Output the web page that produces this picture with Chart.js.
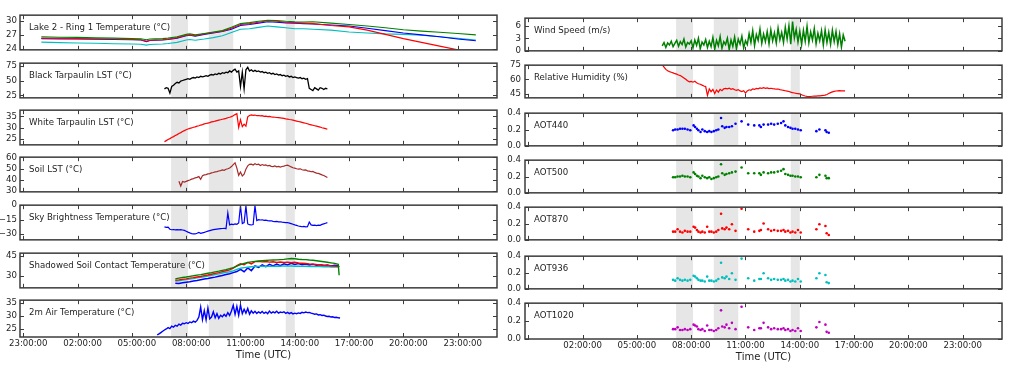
<!DOCTYPE html>
<html><head><meta charset="utf-8">
<script src="https://cdn.jsdelivr.net/npm/chart.js@4.4.1/dist/chart.umd.min.js"></script>
<style>
html,body{margin:0;padding:0;background:#fff;}
body{width:1024px;height:371px;overflow:hidden;position:relative;}
canvas{position:absolute;}
</style></head>
<body>
<script>
// ---------------- DATA ----------------
const X_TICKS = [-1, 2, 5, 8, 11, 14, 17, 20, 23];           // hours (23:00 previous day = -1)
const BANDS = [["07:10","08:06"], ["09:15","10:36"], ["13:30","14:00"]];

const LAKE_T = ["00:00","01:00","02:00","03:00","04:00","05:00","05:30","05:48","06:00","06:18","06:42","07:00","07:30","08:00","08:12","08:30","09:00","09:30","10:00","10:30","11:00","11:30","12:00","12:30","13:00","13:30","14:00","14:30","15:00","16:00","17:00","18:00","19:00","20:00","21:00","22:00","23:00","24:00"];
const LAKE_GREEN = [26.6,26.5,26.45,26.35,26.3,26.2,26.15,25.95,26.1,26.15,26.2,26.3,26.6,27.1,27.2,27.0,27.3,27.6,27.9,28.6,29.4,29.6,29.9,30.1,30.05,29.9,29.8,29.75,29.8,29.5,29.2,28.9,28.5,28.1,27.8,27.55,27.3,27.0];
const LAKE_RED   = [26.3,26.25,26.2,26.15,26.1,26.0,25.95,25.65,25.85,25.9,25.95,26.05,26.4,26.9,27.0,26.8,27.2,27.5,27.8,28.4,29.2,29.4,29.7,30.0,29.9,29.7,29.6,29.5,29.4,29.0,28.7,28.0,27.1,26.2,25.4,24.6,23.8,23.0];
const LAKE_BLUE  = [26.2,26.15,26.1,26.05,26.0,25.95,25.9,25.55,25.8,25.85,25.9,26.0,26.3,26.8,26.9,26.7,27.1,27.4,27.7,28.2,29.0,29.2,29.5,29.8,29.7,29.55,29.5,29.4,29.3,29.1,28.9,28.4,27.9,27.4,27.0,26.6,26.1,25.75];
const LAKE_CYAN  = [25.45,25.35,25.25,25.2,25.1,25.05,25.0,24.8,24.95,25.0,25.05,25.15,25.4,25.9,26.0,25.85,26.1,26.4,26.8,27.5,28.2,28.3,28.6,28.9,28.7,28.5,28.3,28.3,28.2,28.0,27.6,27.4,27.2,27.1,26.9,26.6,26.25,25.9];

const GRID_A = [
"06:24","06:30","06:36","06:42","06:48","06:54",
"07:00","07:06","07:12","07:18","07:24","07:30","07:36","07:42","07:48","07:54",
"08:00","08:06","08:12","08:18","08:24","08:30","08:36","08:42","08:48","08:54",
"09:00","09:06","09:12","09:18","09:24","09:30","09:36","09:42","09:48","09:54",
"10:00","10:06","10:12","10:18","10:24","10:30","10:36","10:42","10:48","10:54",
"11:00","11:06","11:12","11:18","11:24","11:30","11:36","11:42","11:48","11:54",
"12:00","12:06","12:12","12:18","12:24","12:30","12:36","12:42","12:48","12:54",
"13:00","13:06","13:12","13:18","13:24","13:30","13:36","13:42","13:48","13:54",
"14:00","14:06","14:12","14:18","14:24","14:30","14:36","14:42","14:48","14:54",
"15:00","15:06","15:12","15:18","15:24","15:30","15:36","15:42","15:48","15:54",
"16:00","16:06","16:12","16:18","16:24","16:30"];

const BLACK_TARP = [
null,null,null,null,36,38,
37,29,40,42,45,47,46,49,50,51,
52,53,52,54,55,54,56,55,57,56,
57,58,57,59,60,59,61,60,62,61,
63,62,64,63,66,64,67,69,64,66,
40,64,36,68,72,66,68,65,67,65,
66,64,65,63,64,62,63,61,62,60,
61,59,60,58,59,57,58,56,57,55,
56,55,54,55,53,54,52,53,37,35,
33,38,36,34,38,37,35,37,36,null,
null,null,null,null,null,null];

const WHITE_TARP = [
null,null,null,null,23.6,24.1,
24.6,25.0,25.5,25.9,26.4,26.8,27.3,27.7,28.2,28.6,
29.0,29.3,29.6,29.8,30.1,30.3,30.6,30.8,31.1,31.3,
31.6,31.8,32.0,32.2,32.5,32.6,32.9,33.1,33.3,33.5,
33.7,33.9,34.1,34.4,34.6,34.9,35.3,35.8,36.2,30.0,
33.5,30.4,31.5,30.6,34.8,35.4,35.7,35.5,35.6,35.3,
35.4,35.2,35.3,35.0,35.1,34.9,35.0,34.8,34.7,34.6,
34.5,34.4,34.3,34.2,34.1,33.9,33.8,33.6,33.5,33.3,
33.1,32.9,32.7,32.5,32.3,32.1,31.9,31.7,31.4,31.2,
31.0,30.8,30.6,30.4,30.2,29.9,29.7,29.5,29.2,null,
null,null,null,null,null,null];

const SOIL_LST = [
null,null,null,null,null,null,
null,null,null,null,null,null,38.8,34.5,38.5,38.0,
38.6,39.3,39.8,40.6,41.1,41.8,42.2,42.9,40.5,43.6,
44.4,44.7,45.3,45.6,46.2,46.5,47.1,47.3,47.9,48.2,
48.8,48.5,49.4,49.9,50.6,51.8,53.5,55.2,50.5,44.0,
47.0,43.5,45.0,49.5,52.5,53.8,54.0,53.2,54.3,53.5,
53.9,52.8,53.6,52.9,53.3,52.4,52.9,52.0,51.8,52.4,
51.6,52.0,51.4,51.9,52.2,52.8,53.1,52.4,51.5,50.8,
50.4,49.9,49.5,49.8,49.0,48.6,48.9,48.0,47.7,47.2,
47.5,46.6,46.0,45.7,45.1,44.4,43.9,43.0,42.0,null,
null,null,null,null,null,null];

const SKY_BT = [
null,null,null,null,-22.5,-23.0,
-22.8,-25.0,-25.5,-25.3,-25.6,-25.4,-25.7,-25.5,-25.8,-26.2,
-27.0,-28.0,-28.8,-29.5,-29.8,-29.9,-29.2,-28.4,-29.3,-28.7,
-28.2,-27.6,-27.0,-26.4,-25.9,-25.4,-25.1,-24.8,-24.6,-24.4,
-24.2,-24.0,-24.4,-8.0,-20.5,-19.8,-20.2,-19.5,-19.9,-18.5,
-0.5,-19.0,-18.0,-0.8,-19.5,-20.3,-20.6,-20.2,-0.5,-16.0,
-15.0,-15.4,-15.2,-15.8,-15.6,-16.1,-16.3,-16.2,-16.8,-17.0,
-16.8,-17.3,-17.2,-17.6,-17.9,-18.2,-18.0,-18.6,-19.2,-19.8,
-20.5,-21.0,-21.6,-22.0,-22.4,-22.1,-22.6,-22.3,-17.5,-20.5,
-21.0,-20.7,-21.2,-20.8,-20.9,-20.0,-19.4,-18.8,-18.2,null,
null,null,null,null,null,null];

const AIR_2M = [
22.6,23.0,23.5,24.0,24.5,24.9,
25.4,25.0,26.0,25.6,26.3,26.0,26.8,26.4,27.1,26.9,
27.3,27.0,27.6,27.3,27.9,27.5,28.2,29.5,33.3,28.5,
32.0,28.4,33.0,28.8,29.5,31.5,29.2,30.8,29.0,30.2,
29.6,30.5,29.8,31.2,30.1,31.8,34.0,30.5,33.6,30.2,
34.1,30.8,32.5,31.0,32.8,30.6,31.9,31.0,31.7,30.9,
31.5,31.0,31.6,30.9,31.4,30.8,31.8,31.0,31.5,31.1,
31.7,31.0,31.4,31.2,31.5,30.9,31.3,30.8,31.2,30.7,
31.0,30.8,31.1,30.9,31.3,31.1,31.4,31.2,31.3,31.0,
30.8,30.6,30.7,30.3,30.4,30.1,30.2,29.9,29.7,29.8,
29.5,29.6,29.3,29.4,29.2,29.1];

const WIND = [
1.2,2.0,0.8,1.9,1.4,2.3,
1.0,1.8,2.5,1.1,2.2,1.5,2.8,0.9,2.0,1.6,
2.4,0.7,2.6,1.3,3.0,0.5,2.1,1.4,2.7,0.8,
2.3,1.0,3.2,0.4,2.5,1.2,3.4,0.6,2.2,1.5,
3.0,0.3,2.6,1.1,3.3,0.5,2.8,1.6,3.5,0.7,
2.4,1.5,4.1,2.0,4.8,1.3,3.9,2.5,5.2,1.8,
4.0,2.2,4.6,1.7,5.0,2.4,4.3,1.9,5.4,2.6,
4.4,2.0,5.6,2.8,6.0,1.6,7.0,3.0,5.1,2.1,
4.7,1.5,4.9,2.3,5.8,1.9,4.5,2.6,5.3,1.7,
4.2,2.4,4.8,1.4,5.0,2.0,4.4,1.6,4.9,2.2,
4.6,1.5,4.1,0.9,3.8,2.3];

const RH = [
75.5,73.0,70.5,69.0,68.2,67.5,
66.8,66.0,65.5,64.6,64.0,62.8,61.5,60.2,58.5,57.4,
57.8,57.0,58.0,56.5,55.4,54.8,53.9,53.0,52.4,43.0,
50.0,47.0,49.5,45.0,48.8,46.5,49.5,48.0,50.0,50.5,
50.0,50.8,49.6,50.2,49.0,48.4,49.2,47.8,47.2,48.0,
45.5,47.8,49.0,48.5,50.0,49.4,50.5,50.0,51.0,50.6,
51.2,50.5,51.0,50.2,50.6,50.2,50.0,49.6,49.8,49.2,
48.8,48.4,48.0,47.6,47.2,46.5,46.0,45.6,45.2,44.9,
44.6,43.8,43.0,42.4,42.0,41.7,41.9,42.2,42.4,42.3,
42.5,42.6,42.9,43.0,43.3,44.0,45.0,46.0,46.8,47.4,
47.7,47.9,48.1,47.9,48.0,47.8];

const GRID_B = ["07:24","07:36","07:48","08:00","08:12","08:24","08:36","08:48","09:00","09:12",
"09:24","09:36","09:48","10:00","10:12","10:24","10:36","10:48","11:00","11:12",
"11:24","11:36","11:48","12:00","12:12","12:24","12:36","12:48","13:00","13:12",
"13:24","13:36","13:48","14:00","14:12","14:24","14:36","14:48","15:00","15:12",
"15:24","15:36","15:48","16:00","16:12","16:24","16:27"];
const SH_GREEN = [27.8,28.3,28.8,29.2,29.7,30.1,30.6,31.0,31.5,32.0, 32.5,33.1,33.6,34.2,34.8,35.5,36.3,37.4,38.6,39.5, 40.1,40.6,41.0,41.3,41.5,41.7,41.9,42.0,42.1,42.3, 42.5,42.9,43.2,43.0,42.6,42.4,42.3,42.0,41.8,41.5, 41.1,40.7,40.3,39.9,39.5,38.8,30.5];
const SH_RED   = [26.7,27.0,27.4,27.8,28.3,28.7,29.2,29.6,30.2,30.7, 31.3,31.9,32.5,33.2,33.9,34.6,35.8,37.8,39.2,38.4, 40.2,39.1,40.8,41.0,40.6,40.9,40.4,40.7,40.2,40.5, 40.1,40.4,40.0,40.3,39.8,39.6,39.4,39.1,38.9,38.6, 38.4,38.1,37.9,37.6,37.4,37.2,36.8];
const SH_CYAN  = [26.1,26.4,26.8,27.2,27.6,28.0,28.5,28.9,29.4,29.9, 30.4,31.0,31.6,32.2,32.7,33.2,33.8,34.9,35.8,36.3, 36.6,36.9,37.1,37.2,37.3,37.1,37.4,37.2,37.5,37.3, 37.6,37.4,37.5,37.3,37.4,37.2,37.3,37.1,37.2,37.0, 37.1,36.9,37.0,36.8,36.9,36.7,36.5];
const SH_BLUE  = [24.4,24.2,24.8,25.3,25.6,26.2,26.5,27.1,27.6,28.0, 28.6,29.1,29.8,30.4,31.0,31.6,32.5,33.3,35.0,33.2, 36.0,34.0,37.5,36.5,38.4,37.0,38.8,37.5,39.0,37.8, 39.2,38.3,39.5,38.6,39.4,38.5,39.0,38.3,38.8,38.0, 38.5,37.9,38.3,37.6,38.0,37.5,36.9];

const AOT_T = ["07:00","07:07","07:15","07:23","07:31","07:39","07:48","07:57",
"08:08","08:13","08:19","08:24","08:31","08:37","08:45","08:53",
"09:00","09:07","09:15","09:23","09:30","09:39","09:43","09:51",
"09:57","10:06","10:15","10:27","10:47","11:09","11:29","11:46",
"11:51","12:00","12:15","12:25","12:35","12:47","12:58","13:06",
"13:12","13:21","13:29","13:36","13:45","13:54","14:03","14:55",
"15:05","15:25","15:29","15:36"];
const AOT440  = [0.19,0.20,0.20,0.21,0.21,0.21,0.20,0.19, 0.25,0.23,0.21,0.19,0.17,0.20,0.18,0.17, 0.18,0.17,0.18,0.19,0.20,0.34,0.24,0.22, 0.23,0.23,0.24,0.27,0.30,0.26,0.25,0.25, 0.23,0.26,0.26,0.27,0.26,0.27,0.28,0.30, 0.25,0.23,0.22,0.21,0.21,0.20,0.19,0.18, 0.20,0.19,0.17,0.16];
const AOT500  = [0.19,0.19,0.20,0.20,0.21,0.20,0.20,0.19, 0.25,0.23,0.21,0.20,0.18,0.21,0.19,0.18, 0.19,0.17,0.18,0.19,0.20,0.35,0.24,0.22, 0.23,0.24,0.25,0.26,0.31,0.24,0.24,0.24, 0.22,0.25,0.24,0.25,0.25,0.26,0.27,0.29, 0.23,0.22,0.21,0.21,0.20,0.20,0.19,0.19, 0.22,0.21,0.18,0.18];
const AOT870  = [0.10,0.10,0.13,0.10,0.09,0.11,0.10,0.10, 0.16,0.15,0.12,0.10,0.09,0.10,0.09,0.16, 0.10,0.10,0.09,0.10,0.12,0.32,0.14,0.13, 0.15,0.13,0.19,0.11,0.38,0.13,0.10,0.11, 0.12,0.20,0.13,0.11,0.12,0.11,0.11,0.12, 0.10,0.11,0.09,0.10,0.09,0.12,0.09,0.13, 0.19,0.17,0.08,0.06];
const AOT936  = [0.11,0.10,0.13,0.11,0.10,0.11,0.10,0.11, 0.16,0.15,0.13,0.11,0.10,0.10,0.09,0.15, 0.10,0.10,0.09,0.10,0.12,0.32,0.14,0.13, 0.15,0.12,0.19,0.11,0.37,0.13,0.10,0.12, 0.12,0.19,0.13,0.11,0.12,0.11,0.11,0.12, 0.10,0.11,0.09,0.10,0.09,0.12,0.09,0.13, 0.19,0.17,0.08,0.07];
const AOT1020 = [0.11,0.11,0.13,0.10,0.10,0.11,0.10,0.11, 0.16,0.15,0.14,0.11,0.10,0.11,0.09,0.15, 0.10,0.10,0.09,0.10,0.12,0.32,0.14,0.13, 0.16,0.12,0.18,0.11,0.36,0.13,0.10,0.12, 0.12,0.18,0.13,0.11,0.12,0.11,0.11,0.12, 0.10,0.11,0.09,0.10,0.09,0.12,0.09,0.13, 0.19,0.16,0.08,0.07];

const LAKE_TICKS = [24, 27, 30], BLACK_TICKS = [25, 50, 75], WHITE_TICKS = [25, 30, 35];
const SOIL_TICKS = [30, 40, 50, 60], SKY_TICKS = [-30, -15, 0], SHADOW_TICKS = [30, 45];
const AIR_TICKS = [25, 30, 35], WIND_TICKS = [0, 3, 6], RH_TICKS = [45, 60, 75], AOT_TICKS = [0, 0.2, 0.4];

// ---------------- RENDERING ----------------
const FONT = '"DejaVu Sans", sans-serif';
const TXT = '#1e1e1e';
const FRAME = '#3c3c3c';
const XMIN = -1.18, XMAX = 25.17;
const hr = s => { const p = s.split(':').map(Number); return p[0] + p[1] / 60; };
const C = {g:'#008000', r:'#ff0000', b:'#0000ff', c:'#00bfbf', m:'#bf00bf', k:'#000000', br:'#a52a2a'};

const COLS = [{x0:20, L:20, tops:[13,61,108,155,203,251,298], lblDx:5, pad:3},
              {x0:525, L:25, tops:[15,62,110,157,204,253,300], lblDx:0, pad:4}];
const PW = 477, PH = 39, T = 6, R = 6, B = 6, BX = 32;

const line = (t, v, color, w) => ({t, v, color, kind:'line', w: w || 1.1});
const dots = (t, v, color) => ({t, v, color, kind:'dots'});

const PANELS = [
 {col:0, row:0, title:'Lake 2 - Ring 1 Temperature (\u00b0C)', y:[23.8,31.2], ticks:LAKE_TICKS,
  series:[line(LAKE_T,LAKE_GREEN,C.g), line(LAKE_T,LAKE_RED,C.r), line(LAKE_T,LAKE_BLUE,C.b), line(LAKE_T,LAKE_CYAN,C.c)]},
 {col:0, row:1, title:'Black Tarpaulin LST (\u00b0C)', y:[21,79], ticks:BLACK_TICKS, series:[line(GRID_A,BLACK_TARP,C.k,1.3)]},
 {col:0, row:2, title:'White Tarpaulin LST (\u00b0C)', y:[22.2,37.8], ticks:WHITE_TICKS, series:[line(GRID_A,WHITE_TARP,C.r,1.2)]},
 {col:0, row:3, title:'Soil LST (\u00b0C)', y:[29.3,60.2], ticks:SOIL_TICKS, series:[line(GRID_A,SOIL_LST,C.br,1.2)]},
 {col:0, row:4, title:'Sky Brightness Temperature (\u00b0C)', y:[-36,0], ticks:SKY_TICKS, series:[line(GRID_A,SKY_BT,C.b,1.2)]},
 {col:0, row:5, title:'Shadowed Soil Contact Temperature (\u00b0C)', y:[21,47.2], ticks:SHADOW_TICKS,
  series:[line(GRID_B,SH_GREEN,C.g,1.4), line(GRID_B,SH_RED,C.r,1.4), line(GRID_B,SH_CYAN,C.c,1.4), line(GRID_B,SH_BLUE,C.b,1.5)]},
 {col:0, row:6, title:'2m Air Temperature (\u00b0C)', y:[21.8,36], ticks:AIR_TICKS, series:[line(GRID_A,AIR_2M,C.b,1.4)], bottom:true},
 {col:1, row:0, title:'Wind Speed (m/s)', y:[0,7.8], ticks:WIND_TICKS, series:[line(GRID_A,WIND,C.g,1.5)]},
 {col:1, row:1, title:'Relative Humidity (%)', y:[40.5,75], ticks:RH_TICKS, series:[line(GRID_A,RH,C.r,1.2)]},
 {col:1, row:2, title:'AOT440', y:[0,0.4], ticks:AOT_TICKS, series:[dots(AOT_T,AOT440,C.b)], dec:1},
 {col:1, row:3, title:'AOT500', y:[0,0.4], ticks:AOT_TICKS, series:[dots(AOT_T,AOT500,C.g)], dec:1},
 {col:1, row:4, title:'AOT870', y:[0,0.4], ticks:AOT_TICKS, series:[dots(AOT_T,AOT870,C.r)], dec:1},
 {col:1, row:5, title:'AOT936', y:[0,0.4], ticks:AOT_TICKS, series:[dots(AOT_T,AOT936,C.c)], dec:1},
 {col:1, row:6, title:'AOT1020', y:[0,0.4], ticks:AOT_TICKS, series:[dots(AOT_T,AOT1020,C.m)], dec:1, bottom:true}
];

const decor = {
  id: 'decor',
  beforeDatasetsDraw(chart) {
    const a = chart.chartArea, x = chart.scales.x, c = chart.ctx;
    c.save(); c.fillStyle = '#e6e6e6';
    BANDS.forEach(b => {
      const p0 = x.getPixelForValue(hr(b[0])), p1 = x.getPixelForValue(hr(b[1]));
      c.fillRect(p0, a.top, p1 - p0, a.bottom - a.top);
    });
    c.restore();
  },
  afterDraw(chart) {
    const o = chart.options.plugins.decor, a = chart.chartArea, x = chart.scales.x, y = chart.scales.y, c = chart.ctx;
    c.save();
    c.strokeStyle = FRAME; c.lineWidth = 1;
    c.beginPath();
    X_TICKS.forEach(v => {
      const p = Math.round(x.getPixelForValue(v)) + 0.5;
      c.moveTo(p, a.bottom); c.lineTo(p, a.bottom - 4);
      c.moveTo(p, a.top); c.lineTo(p, a.top + 4);
    });
    o.yTicks.forEach(v => {
      const p = Math.round(y.getPixelForValue(v)) + 0.5;
      c.moveTo(a.left, p); c.lineTo(a.left + 4, p);
      c.moveTo(a.right, p); c.lineTo(a.right - 4, p);
    });
    c.stroke();
    c.lineWidth = 1.5;
    c.strokeRect(a.left, a.top, a.right - a.left, a.bottom - a.top);
    c.fillStyle = TXT; c.font = '8.6px ' + FONT; c.textBaseline = 'middle'; c.textAlign = 'left';
    c.fillText(o.title, a.left + 9, a.top + 13);
    if (o.xTitle) {
      c.font = '10px ' + FONT; c.textAlign = 'center';
      c.fillText(o.xTitle, (a.left + a.right) / 2 + o.xTitleDx, a.bottom + 18);
    }
    c.restore();
  }
};

const fmtTime = (v, col) => {
  if (col === 1 && v === -1) return '';
  const h = ((v % 24) + 24) % 24;
  return String(h).padStart(2, '0') + ':00:00';
};

PANELS.forEach(P => {
  const col = COLS[P.col];
  const top = col.tops[P.row];
  const cv = document.createElement('canvas');
  const w = col.L + PW + R, h = T + PH + (P.bottom ? BX : B);
  cv.width = w; cv.height = h;
  cv.style.left = (col.x0 - col.L) + 'px'; cv.style.top = (top - T) + 'px';
  cv.style.width = w + 'px'; cv.style.height = h + 'px';
  document.body.appendChild(cv);

  const datasets = P.series.map(s => {
    const data = s.t.map((tt, i) => ({x: hr(tt), y: s.v[i]})).filter(p => p.y !== null);
    if (s.kind === 'line') return {data, borderColor: s.color, borderWidth: s.w, pointRadius: 0, tension: 0, fill: false, showLine: true};
    return {data, showLine: false, pointRadius: 1.3, pointBorderWidth: 0, pointBackgroundColor: s.color, backgroundColor: s.color, borderColor: s.color};
  });

  const xScale = {
    type: 'linear', min: XMIN, max: XMAX, display: !!P.bottom,
    grid: {display: false, drawTicks: false}, border: {display: false},
    afterBuildTicks: s => { s.ticks = X_TICKS.map(v => ({value: v})); },
    ticks: {autoSkip: false, maxRotation: 0, minRotation: 0, padding: 2, labelOffset: col.lblDx,
            font: {family: FONT, size: 8.6}, color: TXT, callback: v => fmtTime(v, P.col)}
  };
  if (P.bottom) xScale.afterFit = s => { s.height = BX; };

  new Chart(cv, {
    type: 'line',
    data: {datasets},
    options: {
      responsive: false, animation: false, devicePixelRatio: 1,
      layout: {padding: {left: 0, top: T, right: R, bottom: P.bottom ? 0 : B}, autoPadding: false},
      plugins: {legend: {display: false}, tooltip: {enabled: false},
                decor: {title: P.title, yTicks: P.ticks, xTitle: P.bottom ? 'Time (UTC)' : null, xTitleDx: col.lblDx}},
      scales: {
        x: xScale,
        y: {type: 'linear', min: P.y[0], max: P.y[1],
            grid: {display: false, drawTicks: false}, border: {display: false},
            afterBuildTicks: s => { s.ticks = P.ticks.map(v => ({value: v})); },
            afterFit: s => { s.width = col.L; },
            ticks: {autoSkip: false, padding: col.pad, font: {family: FONT, size: 8.6}, color: TXT,
                    callback: v => P.dec ? v.toFixed(1) : String(v).replace('-', '\u2212')}}
      }
    },
    plugins: [decor]
  });
});
</script>
</body></html>
